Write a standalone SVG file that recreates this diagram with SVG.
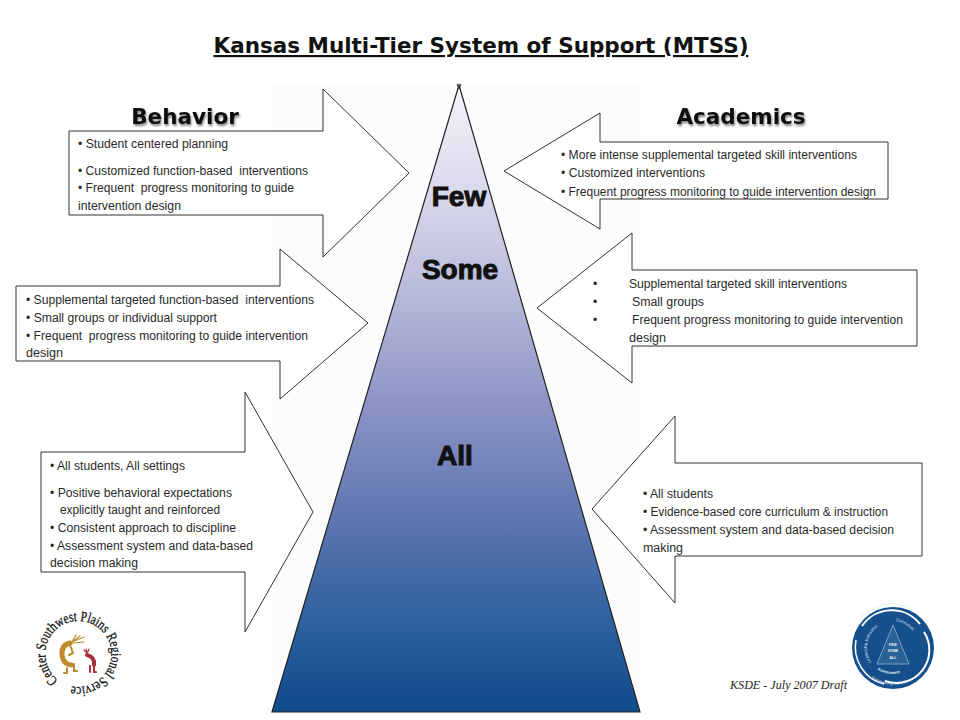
<svg xmlns="http://www.w3.org/2000/svg" width="960" height="720" viewBox="0 0 960 720">
<style>
.a{fill:#fff;stroke:#333;stroke-width:1}
.t{font-family:"Liberation Sans",Arial,sans-serif;font-size:12.3px;fill:#2a2a2a;white-space:pre}
.h{font-family:"DejaVu Sans",Verdana,sans-serif;font-weight:bold;font-size:21.5px;fill:#111;text-anchor:middle;filter:url(#sh)}
.p{font-family:"Liberation Sans",Arial,sans-serif;font-weight:bold;font-size:28px;fill:#111;text-anchor:middle;stroke:#111;stroke-width:1}
.w{font-family:"Liberation Sans",Arial,sans-serif;font-size:4px;fill:#e4ecf5}
</style>
<defs>
<linearGradient id="g" x1="0" y1="0" x2="0" y2="1">
<stop offset="0" stop-color="#f4f4fa"/><stop offset=".15" stop-color="#dcdcee"/><stop offset=".3" stop-color="#bfc1de"/><stop offset=".5" stop-color="#8f96c6"/><stop offset=".7" stop-color="#5c75b0"/><stop offset=".85" stop-color="#2f629f"/><stop offset="1" stop-color="#104a8c"/>
</linearGradient>
<filter id="sh" x="-10%" y="-20%" width="120%" height="150%"><feGaussianBlur in="SourceAlpha" stdDeviation="1"/><feOffset dx="1" dy="1.5"/><feComponentTransfer><feFuncA type="linear" slope=".5"/></feComponentTransfer><feMerge><feMergeNode/><feMergeNode in="SourceGraphic"/></feMerge></filter>
<path id="arcL" d="M58 680A33 33 0 1 1 67 685"/>
<path id="rA" d="M856 668A41 41 0 0 1 928 626"/>
<path id="rC" d="M861 668A38 38 0 0 0 920 673"/>
<path id="rD" d="M871 662A26 26 0 0 1 890 622"/>
<path id="rE" d="M896 621A27 27 0 0 1 918 652"/>
<path id="rF" d="M872 665A28 28 0 0 0 913 665"/>
</defs>
<rect width="960" height="720" fill="#fff"/>
<text x="481" y="53" font-family="'DejaVu Sans',Verdana,sans-serif" font-weight="bold" font-size="21.5" fill="#111" text-anchor="middle" text-decoration="underline" textLength="535" lengthAdjust="spacingAndGlyphs">Kansas Multi-Tier System of Support (MTSS)</text>
<rect x="272" y="84" width="368" height="628" fill="#fcfcfc"/>
<g id="pyramid">
<path d="M459 85L640 712H272Z" fill="url(#g)" stroke="#222" stroke-width="1.2"/>
<path d="M457 84l2 5 2-5" fill="none" stroke="#333"/>
<text class="p" x="459" y="206">Few</text>
<text class="p" x="460" y="279">Some</text>
<text class="p" x="455" y="465">All</text>
</g>
<g id="connectors"/>
<g id="behavior-top">
<path class="a" d="M69 131H323V89L409 173 323 257V215H69Z"/>
<text class="t" x="78" y="148" textLength="150" lengthAdjust="spacingAndGlyphs">• Student centered planning</text>
<text class="t" x="78" y="175" textLength="230" lengthAdjust="spacingAndGlyphs">• Customized function-based  interventions</text>
<text class="t" x="78" y="192" textLength="216" lengthAdjust="spacingAndGlyphs">• Frequent  progress monitoring to guide</text>
<text class="t" x="78" y="210" textLength="103" lengthAdjust="spacingAndGlyphs">intervention design</text>
</g>
<g id="behavior-mid">
<path class="a" d="M16 286H280V249L368 323 280 399V361H16Z"/>
<text class="t" x="26" y="304" textLength="288" lengthAdjust="spacingAndGlyphs">• Supplemental targeted function-based  interventions</text>
<text class="t" x="26" y="322" textLength="191" lengthAdjust="spacingAndGlyphs">• Small groups or individual support</text>
<text class="t" x="26" y="340" textLength="282" lengthAdjust="spacingAndGlyphs">• Frequent  progress monitoring to guide intervention</text>
<text class="t" x="26" y="357" textLength="37" lengthAdjust="spacingAndGlyphs">design</text>
</g>
<g id="behavior-bot">
<path class="a" d="M41 452H245V392L313 512 245 632V572H41Z"/>
<text class="t" x="50" y="470" textLength="135" lengthAdjust="spacingAndGlyphs">• All students, All settings</text>
<text class="t" x="50" y="497" textLength="182" lengthAdjust="spacingAndGlyphs">• Positive behavioral expectations</text>
<text class="t" x="50" y="514" textLength="170" lengthAdjust="spacingAndGlyphs">   explicitly taught and reinforced</text>
<text class="t" x="50" y="532" textLength="186" lengthAdjust="spacingAndGlyphs">• Consistent approach to discipline</text>
<text class="t" x="50" y="550" textLength="203" lengthAdjust="spacingAndGlyphs">• Assessment system and data-based</text>
<text class="t" x="50" y="567" textLength="88" lengthAdjust="spacingAndGlyphs">decision making</text>
</g>
<g id="academics-top">
<path class="a" d="M888 142H600V113L504 171 600 229V199H888Z"/>
<text class="t" x="561" y="159" textLength="296" lengthAdjust="spacingAndGlyphs">• More intense supplemental targeted skill interventions</text>
<text class="t" x="561" y="177" textLength="144" lengthAdjust="spacingAndGlyphs">• Customized interventions</text>
<text class="t" x="561" y="196" textLength="315" lengthAdjust="spacingAndGlyphs">• Frequent progress monitoring to guide intervention design</text>
</g>
<g id="academics-mid">
<path class="a" d="M917 270H632V233L537 308 632 383V346H917Z"/>
<text class="t" x="593" y="288">•</text>
<text class="t" x="629" y="288" textLength="218" lengthAdjust="spacingAndGlyphs">Supplemental targeted skill interventions</text>
<text class="t" x="593" y="306">•</text>
<text class="t" x="632" y="306" textLength="72" lengthAdjust="spacingAndGlyphs">Small groups</text>
<text class="t" x="593" y="324">•</text>
<text class="t" x="632" y="324" textLength="271" lengthAdjust="spacingAndGlyphs">Frequent progress monitoring to guide intervention</text>
<text class="t" x="629" y="342" textLength="37" lengthAdjust="spacingAndGlyphs">design</text>
</g>
<g id="academics-bot">
<path class="a" d="M922 463H675V416L592 509 675 603V556H922Z"/>
<text class="t" x="643" y="498" textLength="70" lengthAdjust="spacingAndGlyphs">• All students</text>
<text class="t" x="643" y="516" textLength="245" lengthAdjust="spacingAndGlyphs">• Evidence-based core curriculum &amp; instruction</text>
<text class="t" x="643" y="534" textLength="251" lengthAdjust="spacingAndGlyphs">• Assessment system and data-based decision</text>
<text class="t" x="643" y="552" textLength="40" lengthAdjust="spacingAndGlyphs">making</text>
</g>
<text class="h" x="185" y="124">Behavior</text>
<text class="h" x="741" y="124">Academics</text>
<g id="logo-left">
<text font-family="'Liberation Serif',serif" font-size="14.5" fill="#111" stroke="#111" stroke-width=".3"><textPath href="#arcL" textLength="192" lengthAdjust="spacingAndGlyphs">Center Southwest Plains Regional Service</textPath></text>
<g fill="none" stroke="#bf8a2e" stroke-linecap="round">
<path d="M70 643Q61 645 62 655 63 664 71 665" stroke-width="5"/>
<path d="M70 645l3 8-4 2M67 668v5h-3M74 664v7h3" stroke-width="2"/>
<path d="M72 642l12-5M72 642l4-7M72 642l8-6M73 643l11-1" stroke-width="1.2"/>
</g>
<g fill="none" stroke="#a8323c" stroke-linecap="round">
<path d="M87 655Q95 657 94 665" stroke-width="4"/>
<path d="M90 666v6M94 666v6h2" stroke-width="2"/>
<path d="M87 653l-3-3M87 652l-1-3M88 652l1-3" stroke-width="1.2"/>
</g>
</g>
<g id="logo-right">
<circle cx="893" cy="648" r="41" fill="#15508d"/>
<path d="M856 640A38 38 0 0 0 884 684" fill="none" stroke="#fff" stroke-width="1.5"/>
<path d="M862 626A36 36 0 0 1 920 624" fill="none" stroke="#fff" stroke-width="2"/>
<path d="M924 632A33 33 0 0 1 885 681" fill="none" stroke="#fff" stroke-width="2"/>
<path d="M893 625L909 664H877Z" fill="#2a6296" stroke="#8fb0cf" stroke-width=".8"/>
<g font-family="'Liberation Sans',sans-serif" font-size="3.5" font-weight="bold" fill="#eef3f8" text-anchor="middle"><text x="893" y="646">FEW</text><text x="893" y="652">SOME</text><text x="893" y="659">ALL</text></g>
<text class="w"><textPath href="#rA" startOffset="42%">Professional Development</textPath></text>
<text class="w"><textPath href="#rD">Leadership Instruction</textPath></text>
<text class="w"><textPath href="#rE">Curriculum</textPath></text>
<text class="w" font-weight="bold"><textPath href="#rF" startOffset="15%">Assessment</textPath></text>
<text class="w"><textPath href="#rC" startOffset="22%">Empowering Culture</textPath></text>
</g>
<text x="730" y="689" font-family="'Liberation Serif',serif" font-style="italic" font-size="11.5" fill="#222" textLength="117" lengthAdjust="spacingAndGlyphs">KSDE - July 2007 Draft</text>
</svg>
